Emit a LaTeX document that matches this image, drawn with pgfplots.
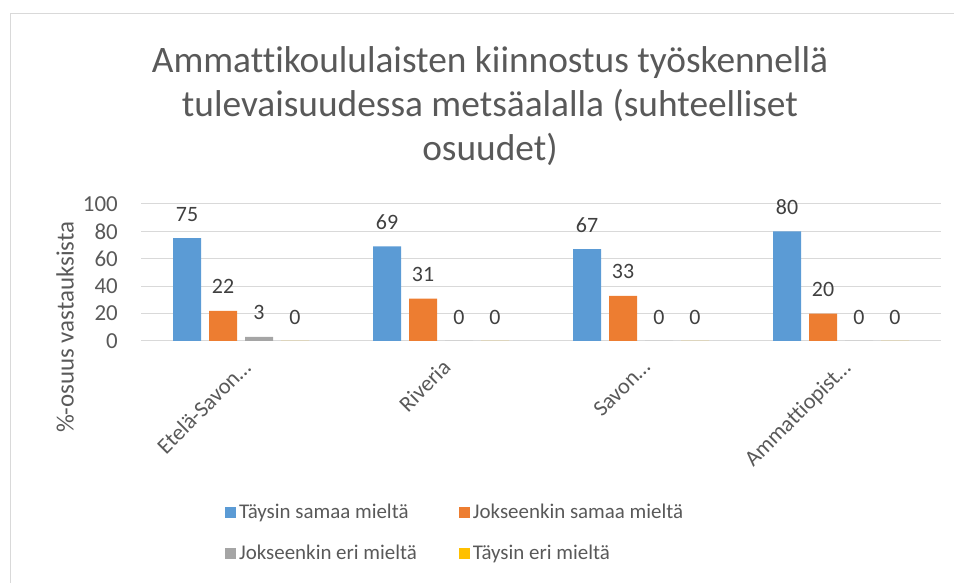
\documentclass[border=0pt]{standalone}
\usepackage{pgfplots}
\pgfplotsset{compat=1.18}
\usepackage{fontspec}
\setmainfont[Ligatures=NoCommon]{Carlito}
\definecolor{cblue}{HTML}{5B9BD5}
\definecolor{corange}{HTML}{ED7D31}
\definecolor{cgray}{HTML}{A5A5A5}
\definecolor{cyellow}{HTML}{FFC000}
\definecolor{tgray}{HTML}{595959}
\definecolor{lgray}{HTML}{404040}
\definecolor{gridc}{HTML}{D9D9D9}
\begin{document}
\begin{tikzpicture}[x=1bp,y=1bp]
\path[use as bounding box] (0,0) rectangle (954,583);
\draw[color=gridc, line width=1bp] (10,0) -- (10,569) -- (954,569);
\node[font=\fontsize{37.5}{44}\selectfont, text=tgray, align=center] at (490,477)
  {Ammattikoululaisten kiinnostus työskennellä\\tulevaisuudessa metsäalalla (suhteelliset\\osuudet)};
\begin{axis}[
  at={(141bp,242bp)}, anchor=south west,
  width=800bp, height=137bp, scale only axis,
  ybar=8bp, bar width=28bp,
  xmin=-0.5, xmax=3.5, ymin=0, ymax=100,
  xtick={0,1,2,3},
  xticklabels={Etelä-Savon…,Riveria,Savon…,Ammattiopist…},
  ytick={0,20,40,60,80,100},
  axis line style={draw=none},
  major tick length=0pt,
  ymajorgrids, grid style={gridc, line width=1bp},
  /pgf/number format/assume math mode=true,
  ticklabel style={text=tgray, font=\fontsize{23}{27}\selectfont},
  yticklabel style={inner sep=0pt, anchor=east, xshift=-23bp},
  xticklabel style={rotate=45, anchor=north east, inner sep=0pt, xshift=-12bp, yshift=-12bp, font=\fontsize{22.5}{26}\selectfont},
  ylabel={\%-osuus vastauksista},
  ylabel style={at={(axis description cs:-0.095,0.10)}, anchor=center, rotate=0, text=tgray, font=\fontsize{25}{29}\selectfont},
  nodes near coords,
  every node near coord/.append style={anchor=center, yshift=24bp, text=lgray, font=\fontsize{22}{26}\selectfont, /pgf/number format/assume math mode=true},
  legend columns=2, legend cell align=left,
  legend style={at={(rel axis cs:0.105,-1.16)}, anchor=north west, draw=none, fill=none, inner sep=0pt,
    font=\fontsize{21}{25}\selectfont, text=tgray,
    nodes={inner sep=3bp, text height=15bp, text depth=4bp},
    /tikz/every even column/.append style={column sep=39bp},
    row sep=16bp},
  legend image code/.code={\fill[#1] (0bp,-5.5bp) rectangle (11bp,5.5bp);},
]
\addplot[fill=cblue, draw=none] coordinates {(0,75) (1,69) (2,67) (3,80)};
\addplot[fill=corange, draw=none] coordinates {(0,22) (1,31) (2,33) (3,20)};
\addplot[fill=cgray, draw=none] coordinates {(0,3) (1,0) (2,0) (3,0)};
\addplot[fill=cyellow, draw=none] coordinates {(0,0) (1,0) (2,0) (3,0)};
\legend{Täysin samaa mieltä, Jokseenkin samaa mieltä, Jokseenkin eri mieltä, Täysin eri mieltä}
\end{axis}
\end{tikzpicture}
\end{document}
